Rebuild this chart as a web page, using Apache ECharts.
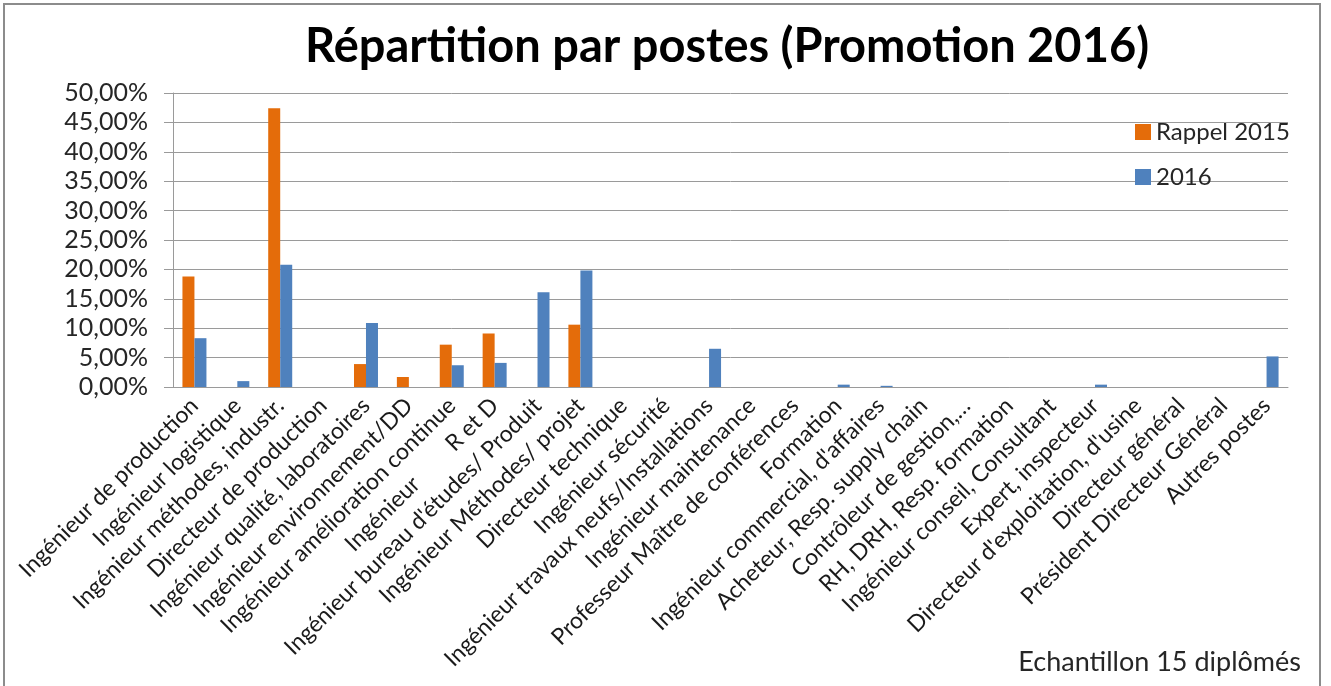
<!DOCTYPE html>
<html>
<head>
<meta charset="utf-8">
<script src="https://cdn.jsdelivr.net/npm/echarts@6/dist/echarts.min.js"></script>
<style>
  html, body { margin: 0; padding: 0; background: #fff; }
  #chart { width: 1331px; height: 686px; }
</style>
</head>
<body>
<div id="chart"></div>
<script>
// postes (catégories de l'axe x)
var postes = [
  'Ingénieur de production',
  'Ingénieur logistique',
  'Ingénieur méthodes, industr.',
  'Directeur de production',
  'Ingénieur qualité, laboratoires',
  'Ingénieur environnement/DD',
  'Ingénieur amélioration continue',
  'Ingénieur        R et D',
  "Ingénieur bureau d'études/ Produit",
  'Ingénieur Méthodes/ projet',
  'Directeur technique',
  'Ingénieur sécurité',
  'Ingénieur travaux neufs/Installations',
  'Ingénieur maintenance',
  'Professeur Maître de conférences',
  'Formation',
  "Ingénieur commercial, d'affaires",
  'Acheteur, Resp. supply chain',
  'Contrôleur de gestion,…',
  'RH, DRH, Resp. formation',
  'Ingénieur conseil, Consultant',
  'Expert, inspecteur',
  "Directeur d'exploitation, d'usine",
  'Directeur général',
  'Président Directeur Général',
  'Autres postes'
];
// valeurs en %
var rappel2015 = [18.8, 0, 47.4, 0, 3.9, 1.7, 7.2, 9.1, 0, 10.6, 0, 0, 0, 0, 0, 0, 0, 0, 0, 0, 0, 0, 0, 0, 0, 0];
var promo2016 = [8.3, 1.0, 20.8, 0, 10.9, 0, 3.7, 4.1, 16.1, 19.8, 0, 0, 6.5, 0, 0, 0.4, 0.2, 0, 0, 0, 0, 0.4, 0, 0, 0, 5.2];
var yTicks = { min: 0, max: 50, interval: 5 };

var police = 'Lato, "Open Sans", sans-serif';

var chart = echarts.init(document.getElementById('chart'));
var option = {
  animation: false,
  backgroundColor: '#fff',
  title: {
    text: 'Répartition par postes (Promotion 2016)',
    left: 300,
    top: 18,
    textStyle: { fontFamily: police, fontSize: 47, fontWeight: 'bold', color: '#000' }
  },
  legend: {
    orient: 'vertical',
    left: 1130,
    top: 115,
    itemWidth: 16,
    itemHeight: 16,
    itemGap: 21,
    icon: 'rect',
    textStyle: { fontFamily: police, fontSize: 24, color: '#262626' },
    data: ['Rappel 2015', '2016']
  },
  grid: { left: 173, right: 43, top: 93, bottom: 299 },
  xAxis: {
    type: 'category',
    data: postes,
    axisLine: { lineStyle: { color: '#9a9a9a', width: 1 } },
    axisTick: { length: 8, lineStyle: { color: '#9a9a9a' } },
    axisLabel: {
      interval: 0,
      rotate: 45,
      margin: 15,
      fontFamily: police,
      fontSize: 23,
      color: '#1a1a1a'
    }
  },
  yAxis: {
    type: 'value',
    min: yTicks.min,
    max: yTicks.max,
    interval: yTicks.interval,
    axisLine: { show: true, lineStyle: { color: '#9a9a9a' } },
    axisTick: { show: true, length: 9, lineStyle: { color: '#9a9a9a' } },
    splitLine: { lineStyle: { color: '#9a9a9a', width: 1 } },
    axisLabel: {
      margin: 25,
      fontFamily: police,
      fontSize: 25,
      color: '#262626',
      formatter: function (v) { return v.toFixed(2).replace('.', ',') + '%'; }
    }
  },
  series: [
    {
      name: 'Rappel 2015',
      type: 'bar',
      data: rappel2015,
      barWidth: 12,
      barGap: '0%',
      itemStyle: { color: '#e46c0a' }
    },
    {
      name: '2016',
      type: 'bar',
      data: promo2016,
      barWidth: 12,
      itemStyle: { color: '#4f81bd' }
    }
  ],
  graphic: [
    {
      type: 'rect',
      silent: true,
      shape: { x: 4, y: 4, width: 1316, height: 720 },
      style: { fill: 'none', stroke: '#8c8c8c', lineWidth: 2 }
    },
    {
      type: 'text',
      right: 30,
      top: 649,
      style: { text: 'Echantillon 15 diplômés', font: '27px ' + police, fill: '#262626' }
    }
  ]
};
chart.setOption(option);
</script>
</body>
</html>
